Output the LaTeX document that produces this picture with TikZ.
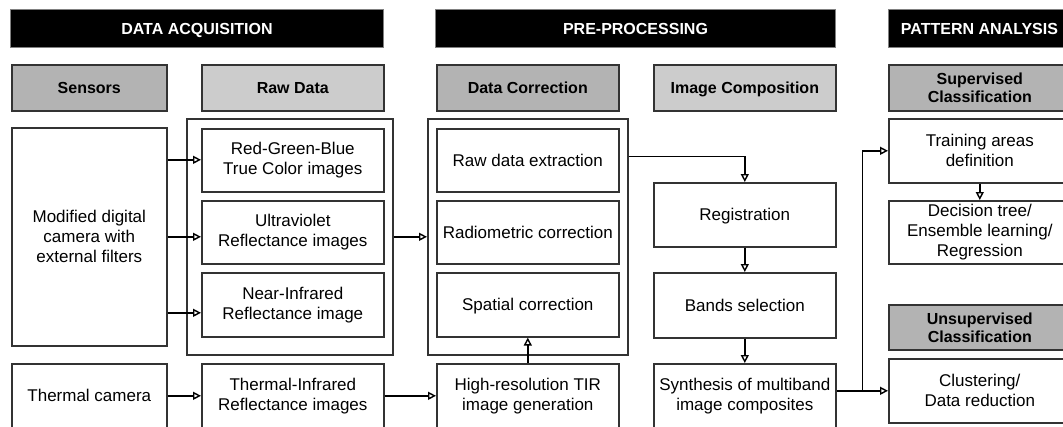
\documentclass[tikz,border=0pt]{standalone}
\usepackage{fontspec}
\setmainfont{Liberation Sans}
\usetikzlibrary{arrows.meta,calc}
\definecolor{hdark}{HTML}{B3B3B3}
\definecolor{hlight}{HTML}{CCCCCC}
\definecolor{edgegray}{HTML}{333333}
\begin{document}
\begin{tikzpicture}[
x=1pt, y=-1pt,
phasenode/.style={rectangle, draw=gray, line width=1pt, fill=black, text=white, font=\bfseries\fontsize{16}{18}\selectfont, minimum height=38pt, text height=11.5pt, text depth=0pt, anchor=north west, inner sep=0pt},
headnode/.style={rectangle, draw=edgegray, line width=1.6pt, fill=#1, font=\bfseries\fontsize{16}{18}\selectfont, minimum width=182pt, minimum height=46pt, anchor=north west, align=center, inner sep=0pt},
oneline/.style={text height=11.5pt, text depth=0pt},
procnode/.style={rectangle, draw=edgegray, line width=1.6pt, fill=white, font=\fontsize{17}{20}\selectfont, minimum width=182pt, minimum height=63pt, anchor=north west, align=center, inner sep=0pt},
groupnode/.style={rectangle, draw=edgegray, line width=1.6pt, anchor=north west, inner sep=0pt},
link/.style={draw=black, line width=1.4pt, -{Triangle[open,length=8pt,width=8pt]}},
]
\useasboundingbox (0,0) rectangle (1063,426);
%Nodes
\node[phasenode, minimum width=373pt] (acq) at (10,9) {DATA ACQUISITION};
\node[phasenode, minimum width=400pt] (pre) at (435,9) {PRE-PROCESSING};
\node[phasenode, minimum width=182pt] (pat) at (888,9) {PATTERN ANALYSIS};

\node[headnode=hdark, oneline, minimum width=155pt] (sens) at (11,64) {Sensors};
\node[headnode=hlight, oneline] (raw) at (201,64) {Raw Data};
\node[headnode=hdark, oneline] (corr) at (436,64) {Data Correction};
\node[headnode=hlight, oneline] (comp) at (653,64) {Image Composition};
\node[headnode=hdark] (sup) at (888,64) {Supervised\\Classification};
\node[headnode=hdark, minimum height=45pt] (unsup) at (888,304) {Unsupervised\\Classification};

\node[groupnode, minimum width=206pt, minimum height=236pt] (rawgrp) at (186,118) {};
\node[groupnode, minimum width=200pt, minimum height=236pt] (corrgrp) at (427,118) {};

\node[procnode, minimum width=155pt, minimum height=218pt] (cam) at (11,127) {Modified digital\\camera with\\external filters};
\node[procnode] (rgb) at (201,128) {Red-Green-Blue\\True Color images};
\node[procnode] (uv) at (201,200) {Ultraviolet\\Reflectance images};
\node[procnode, minimum height=64pt] (nir) at (201,272) {Near-Infrared\\Reflectance image};
\node[procnode, oneline, minimum width=155pt, minimum height=64pt] (therm) at (11,363) {Thermal camera};
\node[procnode, minimum height=64pt] (tir) at (201,363) {Thermal-Infrared\\Reflectance images};
\node[procnode, oneline] (ext) at (436,128) {Raw data extraction};
\node[procnode, oneline] (rad) at (436,200) {Radiometric correction};
\node[procnode, oneline, minimum height=64pt] (spat) at (436,272) {Spatial correction};
\node[procnode, minimum height=64pt] (hires) at (436,363) {High-resolution TIR\\image generation};
\node[procnode, oneline, minimum height=64pt] (reg) at (653,182) {Registration};
\node[procnode, oneline, minimum height=65pt] (band) at (653,272) {Bands selection};
\node[procnode, minimum height=64pt] (synth) at (653,363) {Synthesis of multiband\\image composites};
\node[procnode, minimum height=64pt] (train) at (888,118) {Training areas\\definition};
\node[procnode] (tree) at (888,200) {Decision tree/\\Ensemble learning/\\Regression};
\node[procnode, minimum height=64pt] (clus) at (888,358) {Clustering/\\Data reduction};

%Links
\coordinate (camup) at ($(cam.east)+(0,-77)$);
\coordinate (camdn) at ($(cam.east)+(0,76)$);
\coordinate (extout) at ($(corrgrp.east |- ext.east)+(0,-4)$);
\coordinate (split) at ($(synth.east)!0.5!(clus.west)$);
\draw[link] (camup) -- (camup -| rgb.west);
\draw[link] (cam.east) -- (cam.east -| uv.west);
\draw[link] (camdn) -- (camdn -| nir.west);
\draw[link] (rawgrp.east) -- (corrgrp.west);
\draw[link] (therm.east) -- (tir.west);
\draw[link] (tir.east) -- (hires.west);
\draw[link] (hires.north) -- (spat.south);
\draw[link] (extout) -| (reg.north);
\draw[link] (reg.south) -- (band.north);
\draw[link] (band.south) -- (synth.north);
\draw[link] (synth.east |- clus.west) -- (clus.west);
\draw[link] (split |- clus.west) |- (train.west);
\draw[link] (train.south) -- (tree.north);
\end{tikzpicture}
\end{document}
